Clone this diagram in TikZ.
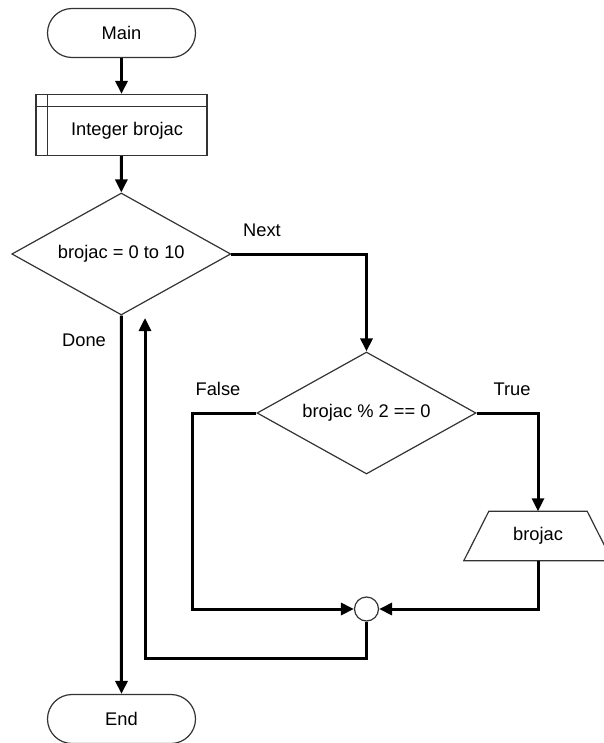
\documentclass[tikz,border=0pt]{standalone}
\usepackage{fontspec}
\setmainfont{Liberation Sans}
\usetikzlibrary{shapes.geometric,shapes.misc,arrows.meta,calc}
\tikzset{
  shapeline/.style={draw=black!80, line width=1.2pt, fill=white},
  term/.style={shapeline, rounded rectangle, minimum width=148pt, minimum height=49pt, inner sep=0pt},
  procbox/.style={shapeline, rectangle, minimum width=171pt, minimum height=61pt, inner sep=0pt},
  decision/.style={shapeline, diamond, minimum width=219pt, minimum height=122pt, inner sep=0pt, aspect=1.8},
  junction/.style={shapeline, circle, minimum size=24pt, inner sep=0pt},
  flow/.style={line width=3pt, black, -{Triangle[length=13pt,width=12pt]}},
  flowplain/.style={line width=3pt, black},
  lbl/.style={inner sep=0pt, text=black},
}
\begin{document}
\begin{tikzpicture}[x=1pt, y=-1pt, font=\fontsize{18.3pt}{22pt}\selectfont]
\useasboundingbox (0,0) rectangle (603,743);
% nodes
\node[term] (main) at (121.5,33) {Main};
\node[procbox] (int) at (121.5,125) {};
\node[lbl] (inttext) at (127,131) {Integer brojac};
\draw[black!80, line width=1.2pt] ($(int.north west)+(12,0)$) -- ($(int.south west)+(12,0)$);
\draw[black!80, line width=1.2pt] ($(int.north west)+(0,12.5)$) -- ($(int.north east)+(0,12.5)$);
\node[decision] (d1) at (121.3,254) {brojac = 0 to 10};
\node[decision] (d2) at (366.5,413) {brojac \% 2 == 0};
\node[minimum width=148pt, minimum height=49pt, inner sep=0pt] (out) at (538,536) {};
\draw[shapeline] (out.south west) -- (out.south east) -- ($(out.north east)+(-25,0)$) -- ($(out.north west)+(25,0)$) -- cycle;
\node[lbl] (outtext) at (538,536) {brojac};
\node[junction] (jn) at (366.5,609) {};
\node[term] (end) at (121.5,719) {End};
\coordinate (loopend) at (145,318);
% labels
\node[lbl] (lnext) at (262,230) {Next};
\node[lbl] (ldone) at (84,340) {Done};
\node[lbl] (lfalse) at (218,389) {False};
\node[lbl] (ltrue) at (512,389) {True};
% connectors
\draw[flow] (main.south) -- (int.north);
\draw[flow] (int.south) -- (d1.north);
\draw[flow] (d1.east) -| (d2.north);
\draw[flow] (d2.east) -| (out.north);
\draw[flow] (d2.west) -- ++(-64,0) |- (jn.west);
\draw[flow] (out.south) |- (jn.east);
\draw[flow] (jn.south) -- ++(0,37) -| (loopend);
\draw[flow] (d1.south) -- (end.north);
\end{tikzpicture}
\end{document}
